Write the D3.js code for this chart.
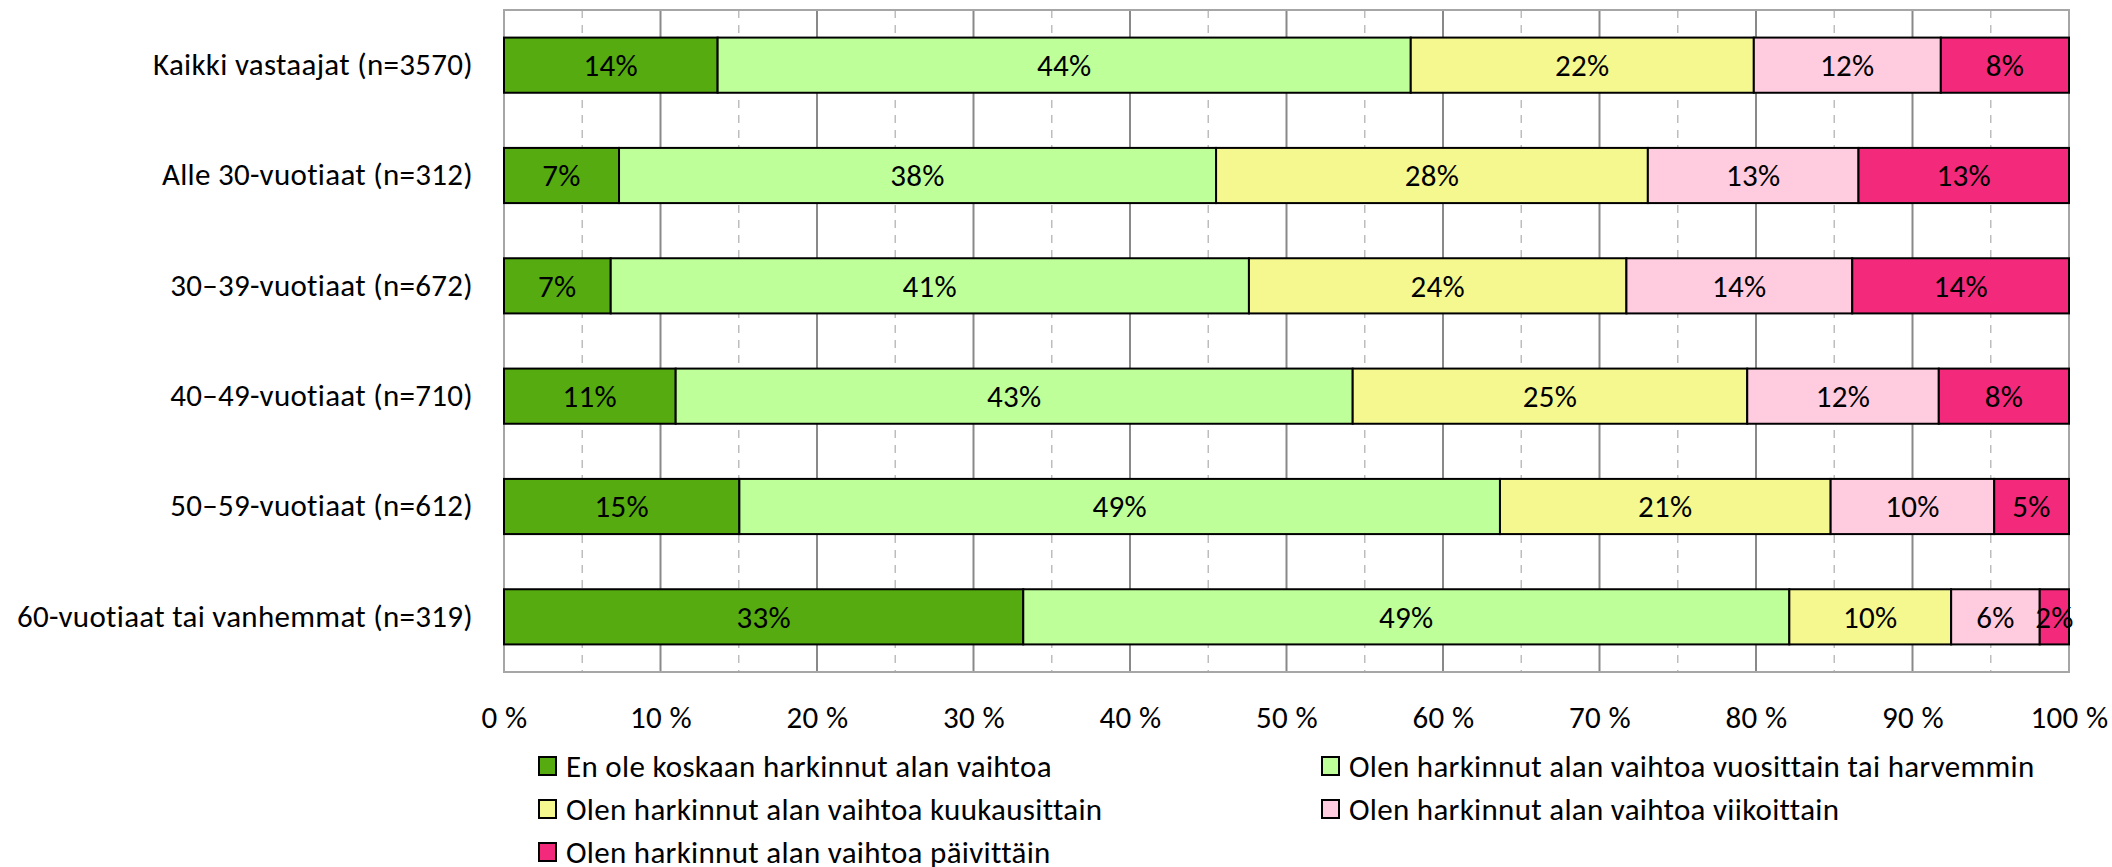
<!DOCTYPE html>
<html>
<head>
<meta charset="utf-8">
<script src="https://cdn.jsdelivr.net/npm/d3@7"></script>
<style>
  body { margin: 0; background: #fff; }
  svg text { font-family: Carlito, Lato, sans-serif; font-size: 31px; letter-spacing: 0.3px; fill: #000; }
</style>
</head>
<body>
<svg class="chart"></svg>
<script>
var width  = 2112;
var height = 867;

// age groups, top to bottom
var groups = [
  "Kaikki vastaajat (n=3570)",
  "Alle 30-vuotiaat (n=312)",
  "30–39-vuotiaat (n=672)",
  "40–49-vuotiaat (n=710)",
  "50–59-vuotiaat (n=612)",
  "60-vuotiaat tai vanhemmat (n=319)"
];
var answers = [
  "En ole koskaan harkinnut alan vaihtoa",
  "Olen harkinnut alan vaihtoa vuosittain tai harvemmin",
  "Olen harkinnut alan vaihtoa kuukausittain",
  "Olen harkinnut alan vaihtoa viikoittain",
  "Olen harkinnut alan vaihtoa päivittäin"
];
// shares (%) per answer, one value per group
var never    = [13.65, 7.35, 6.82, 10.97, 15.04, 33.18];
var yearly   = [44.29, 38.15, 40.78, 43.26, 48.60, 48.95];
var monthly  = [21.92, 27.59, 24.12, 25.21, 21.13, 10.34];
var weekly   = [11.95, 13.46, 14.43, 12.24, 10.45, 5.66];
var daily    = [8.19, 13.45, 13.85, 8.32, 4.78, 1.87];
var colors   = ["#55ab0f", "#bfff9a", "#f5f88f", "#ffcbdf", "#f32a7b"];
var xTicks   = [0, 10, 20, 30, 40, 50, 60, 70, 80, 90, 100];

var series = [never, yearly, monthly, weekly, daily];
var rows = groups.map((g,i)=>{
    var r = {group: g};
    answers.forEach((a,j)=>{ r[a] = series[j][i]; });
    return r;
});

var margin = {left: 504, top: 10};
var plotW = 1565, plotH = 662;

var svg = d3.select('.chart')
    .attr("width", width)
    .attr("height", height);

var g = svg.append('g')
    .attr("transform", `translate(${margin.left},${margin.top})`);

var xscale = d3.scaleLinear().domain([0,100]).range([0,plotW]);
var yscale = d3.scaleBand().domain(groups).range([0,plotH])
    .paddingInner(0.5).paddingOuter(0.25);

// minor dashed grid
g.selectAll('.minor')
    .data(d3.range(5,100,10))
    .enter().append('line')
    .attr("x1", d=>xscale(d)).attr("x2", d=>xscale(d))
    .attr("y1", 0).attr("y2", plotH)
    .attr("stroke", "#bdbdbd")
    .attr("stroke-width", 1.5)
    .attr("stroke-dasharray", "8,7");

// major grid
g.selectAll('.major')
    .data(xTicks.slice(1,-1))
    .enter().append('line')
    .attr("x1", d=>xscale(d)).attr("x2", d=>xscale(d))
    .attr("y1", 0).attr("y2", plotH)
    .attr("stroke", "#898989")
    .attr("stroke-width", 2);

// plot border
g.append('rect')
    .attr("x", 0).attr("y", 0)
    .attr("width", plotW).attr("height", plotH)
    .attr("fill", "none")
    .attr("stroke", "#a6a6a6")
    .attr("stroke-width", 2);

var stack = d3.stack().keys(answers)(rows);

var layers = g.selectAll('.layer')
    .data(stack)
    .enter().append('g')
    .attr("fill", (d,i)=>colors[i]);

layers.selectAll('rect')
    .data(d=>d)
    .enter().append('rect')
    .attr("x", d=>xscale(d[0]))
    .attr("y", d=>yscale(d.data.group))
    .attr("width", d=>xscale(d[1])-xscale(d[0]))
    .attr("height", yscale.bandwidth())
    .attr("stroke", "#000")
    .attr("stroke-width", 2);

layers.selectAll('text')
    .data(d=>d)
    .enter().append('text')
    .attr("x", d=>(xscale(d[0])+xscale(d[1]))/2)
    .attr("y", d=>yscale(d.data.group)+yscale.bandwidth()/2)
    .attr("dy", "0.35em")
    .attr("text-anchor", "middle")
    .text(d=>Math.round(d[1]-d[0])+"%");

// category labels
var yAxis = d3.axisLeft(yscale).tickSize(0).tickPadding(31);
g.append('g')
    .classed('yAxis', true)
    .call(yAxis)
    .call(s=>s.select('.domain').remove());
g.select('.yAxis').attr("font-size", null).attr("font-family", null);

// x axis labels
var xAxis = d3.axisBottom(xscale).tickValues(xTicks).tickSize(0).tickPadding(34)
    .tickFormat(d=>d+" %");
g.append('g')
    .classed('xAxis', true)
    .attr("transform", `translate(0,${plotH})`)
    .call(xAxis)
    .call(s=>s.select('.domain').remove());
g.select('.xAxis').attr("font-size", null).attr("font-family", null);

// legend
var legX = [539, 1322];
var legY = [766, 809, 852];
var legend = svg.selectAll('.legend')
    .data(answers)
    .enter().append('g')
    .attr("transform", (d,i)=>`translate(${legX[i%2]},${legY[Math.floor(i/2)]})`);

legend.append('rect')
    .attr("x", 0).attr("y", -9)
    .attr("width", 17).attr("height", 18)
    .attr("fill", (d,i)=>colors[i])
    .attr("stroke", "#000")
    .attr("stroke-width", 2);

legend.append('text')
    .attr("x", 27)
    .attr("dy", "0.35em")
    .text(d=>d);
</script>
</body>
</html>
